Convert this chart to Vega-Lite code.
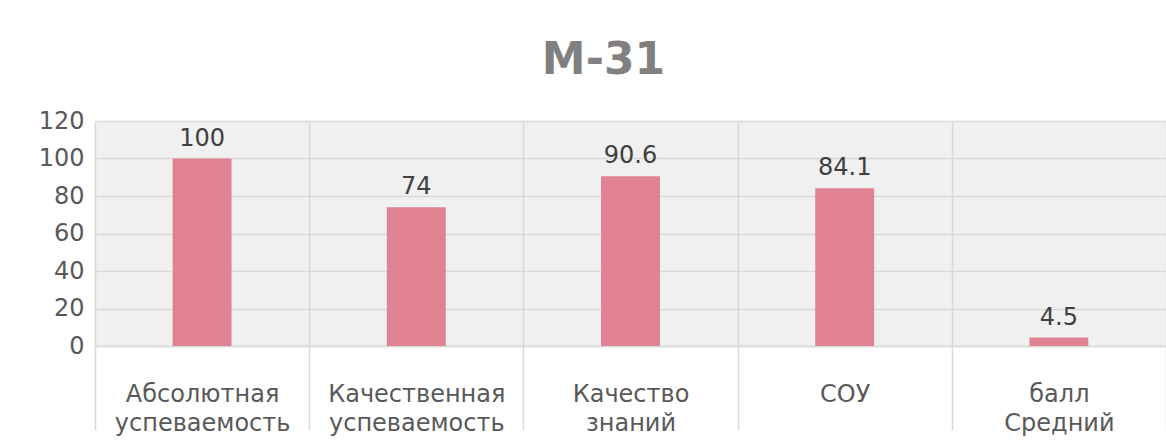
{
  "$schema": "https://vega.github.io/schema/vega-lite/v6.json",
  "width": 1071,
  "height": 225,
  "autosize": {"type": "none"},
  "padding": {"left": 95, "top": 121, "right": 0, "bottom": 98},
  "background": "white",
  "title": {
    "text": "М-31",
    "font": "DejaVu Sans",
    "fontSize": 44,
    "fontWeight": "bold",
    "color": "#808080",
    "anchor": "middle",
    "frame": "group",
    "baseline": "alphabetic",
    "offset": -9,
    "dx": -27
  },
  "config": {
    "view": {"stroke": null, "fill": "#f0f0f0"},
    "font": "DejaVu Sans"
  },
  "data": {
    "values": [
      {"cat": "Абсолютная успеваемость", "value": 100, "label": "100"},
      {"cat": "Качественная успеваемость", "value": 74, "label": "74"},
      {"cat": "Качество знаний", "value": 90.6, "label": "90.6"},
      {"cat": "СОУ", "value": 84.1, "label": "84.1"},
      {"cat": "балл Средний", "value": 4.5, "label": "4.5"}
    ]
  },
  "encoding": {
    "x": {
      "field": "cat",
      "type": "nominal",
      "sort": null,
      "scale": {"paddingInner": 0, "paddingOuter": 0},
      "axis": {
        "title": null,
        "labelAngle": 0,
        "labelExpr": "split(datum.label, ' ')",
        "labelFontSize": 24,
        "labelColor": "#595959",
        "labelLineHeight": 29,
        "labelPadding": -48,
        "labelBaseline": "top",
        "tickBand": "extent",
        "ticks": true,
        "tickSize": 84,
        "tickColor": "#d9d9d9",
        "tickWidth": 1.5,
        "grid": true,
        "gridColor": "#d9d9d9",
        "gridWidth": 1.5,
        "domain": true,
        "domainColor": "#d9d9d9",
        "domainWidth": 1.5
      }
    },
    "y": {
      "field": "value",
      "type": "quantitative",
      "scale": {"domain": [0, 120], "nice": false},
      "axis": {
        "title": null,
        "values": [0, 20, 40, 60, 80, 100, 120],
        "labelFontSize": 24,
        "labelColor": "#595959",
        "labelPadding": 11,
        "domain": false,
        "ticks": false,
        "grid": true,
        "gridColor": "#d9d9d9",
        "gridWidth": 1.5
      }
    }
  },
  "layer": [
    {"mark": {"type": "bar", "color": "#e08292", "width": {"band": 0.275}}},
    {
      "mark": {"type": "text", "baseline": "alphabetic", "dy": -13, "fontSize": 24, "color": "#404040"},
      "encoding": {"text": {"field": "label"}}
    }
  ]
}
